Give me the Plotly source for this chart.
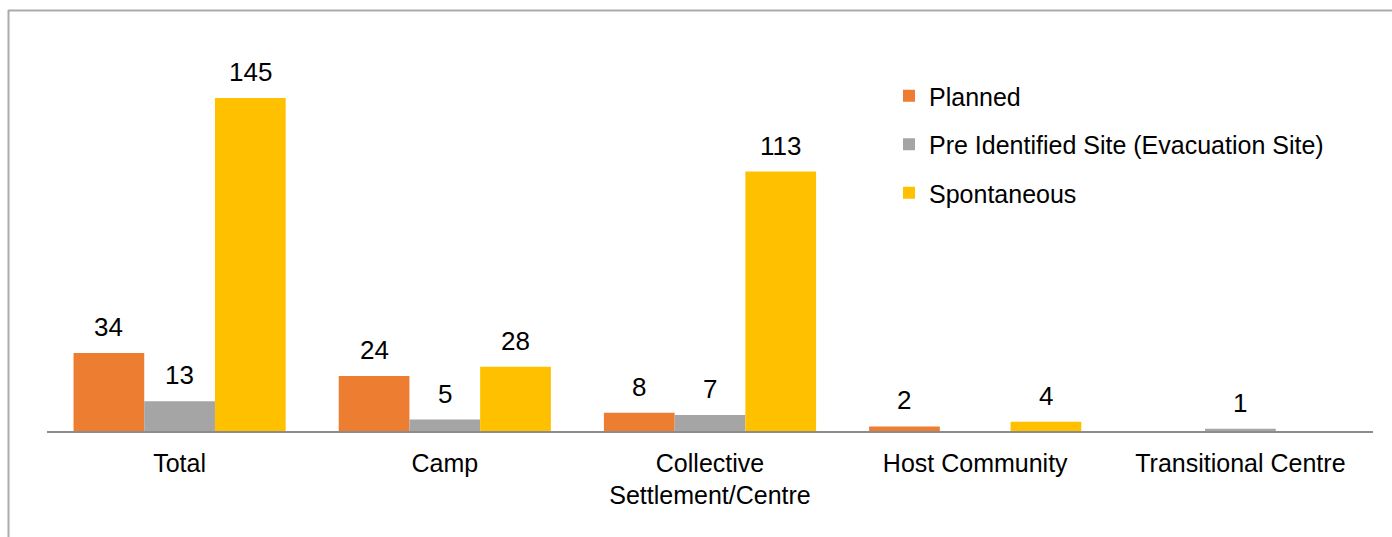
import plotly.graph_objects as go

categories = ["Total", "Camp", "Collective<br>Settlement/Centre", "Host Community", "Transitional Centre"]
planned = [34, 24, 8, 2, None]
pre_identified = [13, 5, 7, None, 1]
spontaneous = [145, 28, 113, 4, None]

series = [
    ("Planned", planned, "#ED7D31"),
    ("Pre Identified Site (Evacuation Site)", pre_identified, "#A5A5A5"),
    ("Spontaneous", spontaneous, "#FFC000"),
]

W, H = 1392, 537
FONT = "Liberation Sans"
pl, pr, pt, pb = 47, 19, 20, 106
pw, ph = W - pl - pr, H - pt - pb
BARGAP = 0.2


def px_to_paper_x(px):
    return (px - pl) / pw


def px_to_paper_y(py):
    return (H - pb - py) / ph


fig = go.Figure()
for name, vals, color in series:
    fig.add_trace(go.Bar(
        x=categories,
        y=vals,
        name=name,
        legendgroup=name,
        marker=dict(color=color, line=dict(width=0)),
    ))

# value labels above each bar
bar_px = pw / len(categories) * (1 - BARGAP) / len(series)
annotations = []
for i, (name, vals, color) in enumerate(series):
    for cat, v in zip(categories, vals):
        if v is None:
            continue
        annotations.append(dict(
            x=cat, y=v, xref="x", yref="y", text=str(v), showarrow=False,
            xanchor="center", yanchor="middle",
            xshift=(i - 1) * bar_px, yshift=26,
            font=dict(size=26, family=FONT, color="#000000"),
        ))

frame = dict(type="line", xref="paper", yref="paper", line=dict(color="#ABABAB", width=2))

fig.update_layout(
    width=W, height=H,
    margin=dict(l=pl, r=pr, t=pt, b=pb),
    paper_bgcolor="white", plot_bgcolor="white",
    barmode="group", bargap=BARGAP, bargroupgap=0,
    font=dict(family=FONT, size=25, color="#000000"),
    showlegend=True,
    legend=dict(
        x=px_to_paper_x(889), y=px_to_paper_y(73), xanchor="left", yanchor="top",
        font=dict(size=25, family=FONT, color="#000000"),
        tracegroupgap=13, bgcolor="rgba(0,0,0,0)",
        itemwidth=30,
    ),
    xaxis=dict(
        showline=True, linecolor="#8C8C8C", linewidth=1.5,
        ticks="", tickfont=dict(size=25, family=FONT, color="#000000"),
        ticklabelstandoff=9,
        showgrid=False, zeroline=False,
    ),
    yaxis=dict(range=[0, 179], visible=False, showgrid=False, zeroline=False),
    annotations=annotations,
    shapes=[
        dict(frame, x0=px_to_paper_x(8), x1=px_to_paper_x(1400), y0=px_to_paper_y(10.5), y1=px_to_paper_y(10.5)),
        dict(frame, x0=px_to_paper_x(8.5), x1=px_to_paper_x(8.5), y0=px_to_paper_y(10), y1=px_to_paper_y(545)),
    ],
)

fig.write_html("out.html")
